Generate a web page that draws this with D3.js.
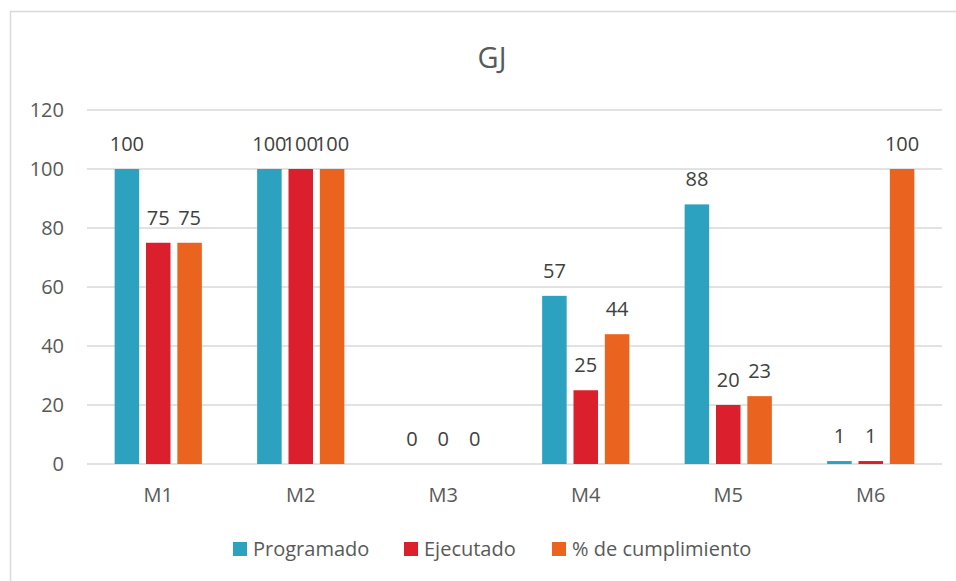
<!DOCTYPE html>
<html>
<head>
<meta charset="utf-8">
<script src="https://cdn.jsdelivr.net/npm/d3@7"></script>
<style>
  body { margin: 0; background: #fff; font-family: "Open Sans", "Noto Sans", sans-serif; }
  #chart { width: 956px; height: 581px; }
</style>
</head>
<body>
<div id="chart"></div>
<script>
const categories = ['M1', 'M2', 'M3', 'M4', 'M5', 'M6'];
const seriesNames = ['Programado', 'Ejecutado', '% de cumplimiento'];
const programado = [100, 100, 0, 57, 88, 1];
const ejecutado = [75, 100, 0, 25, 20, 1];
const cumplimiento = [75, 100, 0, 44, 23, 100];
const yTicks = [0, 20, 40, 60, 80, 100, 120];
const colors = ['#2ca2c0', '#dc1f2c', '#ea641f'];

document.addEventListener('DOMContentLoaded', function() {
    drawChart();
});

function drawChart() {
    const width = 956, height = 581;
    const svg = d3.select('#chart').append('svg')
        .attr('width', width)
        .attr('height', height);

    // outer chart border
    svg.append('rect')
        .attr('x', 10.5).attr('y', 11.5)
        .attr('width', 960).attr('height', 600)
        .attr('fill', 'none')
        .attr('stroke', '#d9d9d9')
        .attr('stroke-width', 1.5);

    const plot = { left: 87, right: 942, top: 110, bottom: 464 };

    const x = d3.scaleBand()
        .domain(categories)
        .range([plot.left, plot.right]);

    const y = d3.scaleLinear()
        .domain([0, 120])
        .range([plot.bottom, plot.top]);

    const series = [programado, ejecutado, cumplimiento];

    // gridlines
    svg.append('g').selectAll('line')
        .data(yTicks)
        .enter().append('line')
        .attr('x1', plot.left).attr('x2', plot.right)
        .attr('y1', d => y(d)).attr('y2', d => y(d))
        .attr('stroke', '#d9d9d9')
        .attr('stroke-width', 1.5);

    // y labels
    svg.append('g').selectAll('text')
        .data(yTicks)
        .enter().append('text')
        .attr('x', 64)
        .attr('y', d => y(d))
        .attr('dy', '0.36em')
        .attr('text-anchor', 'end')
        .attr('fill', '#595959')
        .attr('font-size', 20)
        .text(d => d);

    const barW = x.bandwidth() * 0.172;
    const barStep = x.bandwidth() * 0.22;

    series.forEach((vals, si) => {
        const offset = (si - 1) * barStep - barW / 2;
        svg.append('g').selectAll('rect')
            .data(vals)
            .enter().append('rect')
            .attr('x', (d, i) => x(categories[i]) + x.bandwidth() / 2 + offset)
            .attr('y', d => y(d))
            .attr('width', barW)
            .attr('height', d => y(0) - y(d))
            .attr('fill', colors[si]);

        svg.append('g').selectAll('text')
            .data(vals)
            .enter().append('text')
            .attr('x', (d, i) => x(categories[i]) + x.bandwidth() / 2 + offset + barW / 2)
            .attr('y', d => y(d) - 18)
            .attr('text-anchor', 'middle')
            .attr('fill', '#404040')
            .attr('font-size', 20)
            .text(d => d);
    });

    // category labels
    svg.append('g').selectAll('text')
        .data(categories)
        .enter().append('text')
        .attr('x', d => x(d) + x.bandwidth() / 2)
        .attr('y', 502)
        .attr('text-anchor', 'middle')
        .attr('fill', '#595959')
        .attr('font-size', 20)
        .text(d => d);

    // title
    svg.append('text')
        .attr('x', 492)
        .attr('y', 68)
        .attr('text-anchor', 'middle')
        .attr('fill', '#595959')
        .attr('font-size', 29)
        .text('GJ');

    // legend
    const legendX = [233, 404, 552];
    const legend = svg.append('g');
    seriesNames.forEach((name, i) => {
        legend.append('rect')
            .attr('x', legendX[i]).attr('y', 542)
            .attr('width', 14).attr('height', 14)
            .attr('fill', colors[i]);
        legend.append('text')
            .attr('x', legendX[i] + 20)
            .attr('y', 556)
            .attr('fill', '#595959')
            .attr('font-size', 20)
            .text(name);
    });
}
</script>
</body>
</html>
